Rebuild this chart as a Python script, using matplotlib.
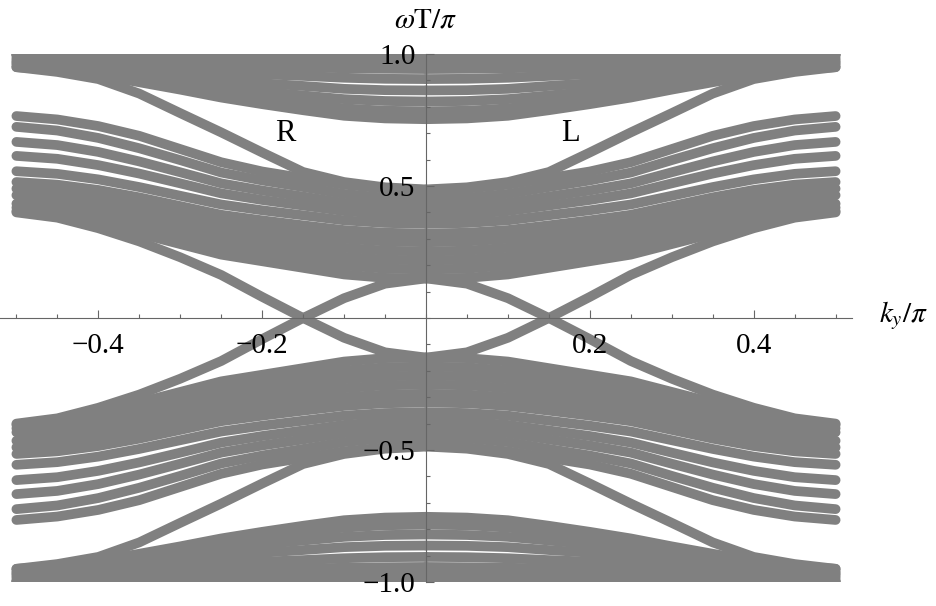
import numpy as np
import matplotlib.pyplot as plt

plt.rcParams['font.family'] = ['Liberation Serif', 'DejaVu Serif']
plt.rcParams['mathtext.fontset'] = 'stix'

# ky/pi sample points (right half); the spectrum is mirrored in ky and in omega
ky = np.array([0.0, 0.05, 0.1, 0.15, 0.2, 0.25, 0.3, 0.35, 0.4, 0.45, 0.5])

# bulk bands of the middle group (omega T / pi)
mid_bands = [
    [0.485, 0.490, 0.505, 0.530, 0.555, 0.590, 0.640, 0.690, 0.727, 0.752, 0.765],
    [0.452, 0.456, 0.470, 0.496, 0.521, 0.551, 0.598, 0.643, 0.682, 0.710, 0.724],
    [0.420, 0.423, 0.436, 0.460, 0.483, 0.510, 0.552, 0.593, 0.629, 0.655, 0.667],
    [0.390, 0.393, 0.405, 0.426, 0.447, 0.472, 0.510, 0.547, 0.579, 0.603, 0.614],
    [0.357, 0.360, 0.370, 0.389, 0.408, 0.430, 0.463, 0.496, 0.525, 0.546, 0.556],
    [0.320, 0.323, 0.333, 0.351, 0.370, 0.391, 0.424, 0.457, 0.485, 0.505, 0.515],
    [0.287, 0.290, 0.300, 0.319, 0.339, 0.361, 0.396, 0.429, 0.459, 0.480, 0.490],
    [0.252, 0.255, 0.266, 0.286, 0.306, 0.330, 0.366, 0.401, 0.432, 0.454, 0.465],
    [0.218, 0.221, 0.232, 0.252, 0.273, 0.297, 0.333, 0.369, 0.400, 0.422, 0.433],
    [0.184, 0.187, 0.199, 0.221, 0.243, 0.270, 0.309, 0.348, 0.382, 0.406, 0.418],
    [0.150, 0.152, 0.165, 0.190, 0.215, 0.240, 0.280, 0.320, 0.360, 0.390, 0.405],
]

# bulk bands of the group next to omega T = pi
top_bands = [
    [1.000, 1.000, 1.000, 1.000, 1.000, 1.000, 1.000, 1.000, 1.000, 1.000, 1.000],
    [0.968, 0.969, 0.971, 0.974, 0.976, 0.979, 0.983, 0.988, 0.991, 0.994, 0.995],
    [0.943, 0.944, 0.946, 0.949, 0.952, 0.957, 0.964, 0.972, 0.978, 0.983, 0.985],
    [0.905, 0.906, 0.910, 0.917, 0.923, 0.931, 0.944, 0.955, 0.966, 0.973, 0.977],
    [0.862, 0.863, 0.868, 0.879, 0.889, 0.901, 0.920, 0.938, 0.953, 0.965, 0.970],
    [0.820, 0.822, 0.829, 0.843, 0.857, 0.873, 0.898, 0.922, 0.943, 0.958, 0.965],
    [0.783, 0.785, 0.794, 0.812, 0.829, 0.848, 0.878, 0.906, 0.931, 0.949, 0.958],
    [0.753, 0.756, 0.766, 0.787, 0.810, 0.835, 0.865, 0.893, 0.920, 0.940, 0.950],
]

# edge states: one in the pi gap (label L), one crossing omega = 0
edge_pi = [0.487, 0.495, 0.515, 0.553, 0.627, 0.703, 0.776, 0.850, 0.905, 0.932, 0.950]
edge_zero = [-0.150, -0.130, -0.075, 0.000, 0.080, 0.163, 0.230, 0.290, 0.340, 0.380, 0.400]

fig = plt.figure(figsize=(9.37, 6.06), dpi=100)
ax = fig.add_axes([0.0, 0.0396, 0.9093, 0.8713])
ax.set_axisbelow(False)

grey = '#808080'
for band in mid_bands + top_bands + [edge_pi, edge_zero]:
    w = np.array(band)
    for sx in (1, -1):
        for sy in (1, -1):
            ax.plot(sx * ky, sy * w, color=grey, lw=7.0, zorder=2,
                    solid_capstyle='round', solid_joinstyle='round')

ax.set_xlim(-0.52, 0.52)
ax.set_ylim(-1.0, 1.0)

# axes through the origin, Mathematica style
for side in ('top', 'right'):
    ax.spines[side].set_visible(False)
ax.spines['left'].set_position(('data', 0))
ax.spines['bottom'].set_position(('data', 0))
for side in ('left', 'bottom'):
    ax.spines[side].set_color('#666666')
    ax.spines[side].set_linewidth(0.8)
    ax.spines[side].set_zorder(5)

ax.set_xticks([-0.4, -0.2, 0.2, 0.4])
ax.set_xticklabels(['\u22120.4', '\u22120.2', '0.2', '0.4'])
ax.set_xticks(np.arange(-10, 11) * 0.05, minor=True)
ax.set_yticks([-1.0, -0.5, 0.5, 1.0])
ax.set_yticklabels(['\u22121.0', '\u22120.5', '0.5', '1.0'])
ax.set_yticks(np.arange(-10, 11) * 0.1, minor=True)
ax.tick_params(which='both', direction='in', color='#666666', width=0.8,
               labelsize=21)
ax.tick_params(which='major', length=5.8)
ax.tick_params(which='minor', length=3.2)
ax.tick_params(axis='x', pad=10.5)
ax.tick_params(axis='y', pad=7.5)

ax.text(-0.172, 0.697, 'R', fontsize=22, ha='center', va='center', zorder=6)
ax.text(0.176, 0.70, 'L', fontsize=22, ha='center', va='center', zorder=6)

fig.text(426 / 937, 1 - 20 / 606, r'$\omega\mathrm{T}/\pi$', fontsize=21,
         ha='center', va='center')
fig.text(903 / 937, 1 - 316 / 606, r'$k_y/\pi$', fontsize=21,
         ha='center', va='center')

fig.savefig('out.png', dpi=100)
